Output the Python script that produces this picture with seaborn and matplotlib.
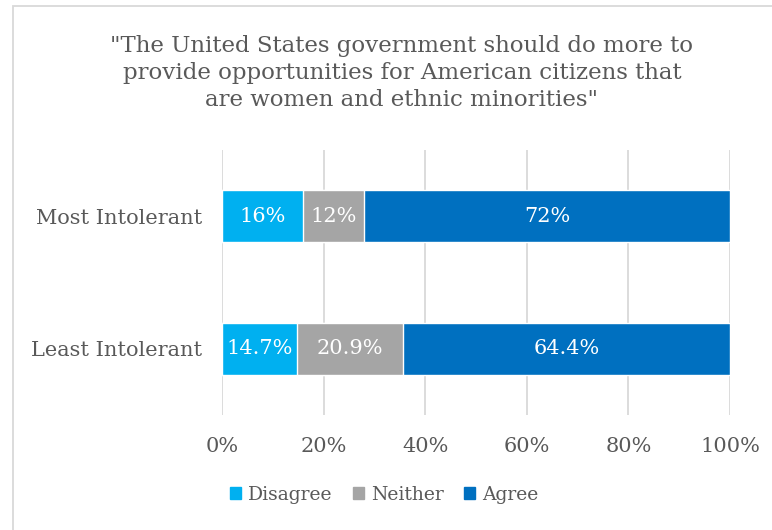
import matplotlib
matplotlib.use("Agg")
import matplotlib.pyplot as plt
from matplotlib.patches import Rectangle
import seaborn as sns
import pandas as pd
import numpy as np

groups = ["Most Intolerant", "Least Intolerant"]
responses = ["Disagree", "Neither", "Agree"]
disagree = [16, 14.7]
neither = [12, 20.9]
agree = [72, 64.4]
value_labels = {
    "Disagree": ["16%", "14.7%"],
    "Neither": ["12%", "20.9%"],
    "Agree": ["72%", "64.4%"],
}
x_ticks = [0, 20, 40, 60, 80, 100]
x_tick_labels = ["0%", "20%", "40%", "60%", "80%", "100%"]
title = ('"The United States government should do more to\n'
         'provide opportunities for American citizens that\n'
         'are women and ethnic minorities"')

colors = {"Disagree": "#00B0F0", "Neither": "#A5A5A5", "Agree": "#0070C0"}
text_color = "#595959"
grid_color = "#D9D9D9"

sns.set_theme(style="white")
plt.rcParams["font.family"] = ["DejaVu Serif"]

values = {"Disagree": np.array(disagree), "Neither": np.array(neither), "Agree": np.array(agree)}
cum = {}
running = np.zeros(len(groups))
for r in responses:
    running = running + values[r]
    cum[r] = running.copy()

fig = plt.figure(figsize=(7.72, 5.30), dpi=100)
W, H = 772, 530
ax = fig.add_axes([222 / W, 1 - 415 / H, (730 - 222) / W, (415 - 150) / H])

# stacked bars: draw cumulative totals back to front
for r in reversed(responses):
    df = pd.DataFrame({"group": groups, "value": cum[r]})
    sns.barplot(data=df, x="value", y="group", orient="h", color=colors[r],
                width=0.39, saturation=1, ax=ax, zorder=3, label=r)

# segment labels
for r in responses:
    start = cum[r] - values[r]
    for i, lab in enumerate(value_labels[r]):
        ax.text(start[i] + values[r][i] / 2, i, lab, ha="center", va="center",
                color="white", fontsize=15, zorder=5)

ax.set_xlim(0, 100)
ax.set_ylim(1.5, -0.5)
ax.set_xticks(x_ticks)
ax.set_xticklabels(x_tick_labels)
ax.xaxis.grid(True, color=grid_color, linewidth=1.3, zorder=0)
ax.yaxis.grid(False)
for s in ax.spines.values():
    s.set_visible(False)
ax.set_xlabel("")
ax.set_ylabel("")
ax.tick_params(axis="x", length=0, pad=16, labelsize=15, labelcolor=text_color)
ax.tick_params(axis="y", length=0, pad=14, labelsize=15, labelcolor=text_color)

# legend
handles = [Rectangle((0, 0), 1, 1, color=colors[r]) for r in responses]
fig.legend(handles, responses, loc="center", bbox_to_anchor=(384 / W, 1 - 495 / H),
           ncol=3, frameon=False, fontsize=13.5, labelcolor=text_color,
           handlelength=0.6, handleheight=0.6, handletextpad=0.35, columnspacing=1.1)
if ax.get_legend() is not None:
    ax.get_legend().remove()

fig.text(402 / W, 1 - 73 / H, title, ha="center", va="center", fontsize=16.5,
         color=text_color, linespacing=1.3)

# chart frame
fig.patches.append(Rectangle((13 / W, -0.1), 1.2, 1 - 6 / H + 0.1, transform=fig.transFigure,
                             fill=False, edgecolor="#D9D9D9", linewidth=1.3, zorder=0))

fig.savefig("out.png", dpi=100)
